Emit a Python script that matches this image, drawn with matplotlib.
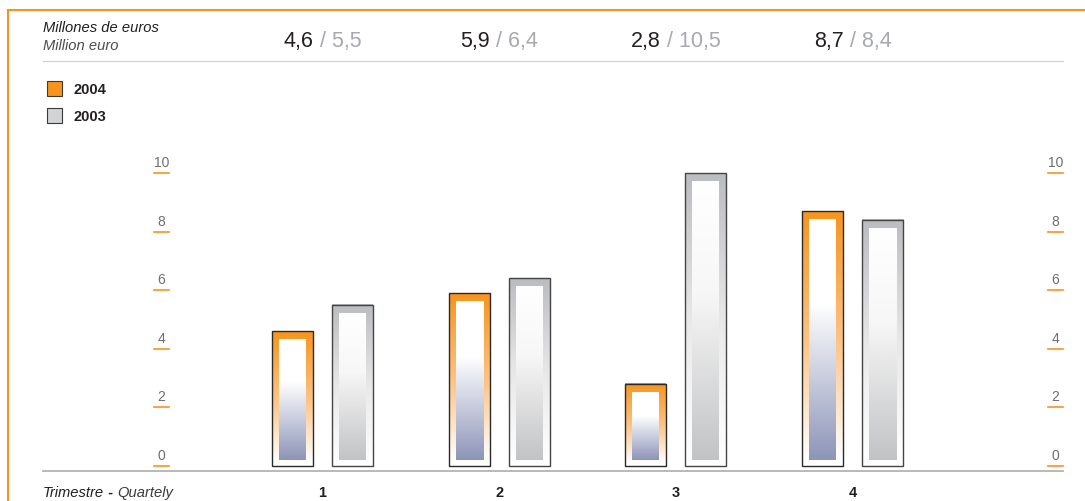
import numpy as np
import matplotlib
matplotlib.use("Agg")
import matplotlib.pyplot as plt
from matplotlib.colors import LinearSegmentedColormap
from matplotlib.patches import Rectangle
from matplotlib.lines import Line2D
import matplotlib.transforms as mtransforms

# ---- data -------------------------------------------------------------
quarters = ["1", "2", "3", "4"]
series_names = ["2004", "2003"]
sales_2004 = [4.6, 5.9, 2.8, 8.7]
sales_2003 = [5.5, 6.4, 10.5, 8.4]
y_ticks = [0, 2, 4, 6, 8, 10]

# ---- style --------------------------------------------------------------
plt.rcParams["font.family"] = ["Liberation Sans", "DejaVu Sans"]
ORANGE = "#f7941d"
DARK = "#231f20"
LIGHT_TXT = "#a7a9ac"
TICK_TXT = "#6d6e71"

W, H = 1085, 502
fig = plt.figure(figsize=(W / 100, H / 100), dpi=100)
fig.patch.set_facecolor("white")


def fx(px):
    return px / W


def fy(py):
    return 1 - py / H


# ---- plotting area ------------------------------------------------------
px_per_unit = (467 - 174) / 10.0
group_px = 176.7
y_lo = -(472 - 467) / px_per_unit
y_hi = 10.0
x_lo = 1 - (322.5 - 43) / group_px
x_hi = 1 + (1063 - 322.5) / group_px

ax = fig.add_axes([fx(43), fy(472), fx(1063) - fx(43), fy(174) - fy(472)])
ax.set_axis_off()

bar_w = 41 / group_px
offset = 30 / group_px
inset_x = 7 / group_px
inset_top = 8 / px_per_unit
inset_bot = 6.5 / px_per_unit

frame_cmaps = {
    "2004": LinearSegmentedColormap.from_list(
        "f04", [(0, ORANGE), (0.5, "#fdc282"), (0.97, "#ffffff"), (1, "#ffffff")]),
    "2003": LinearSegmentedColormap.from_list(
        "f03", [(0, "#bbbcbf"), (0.5, "#e8e8e9"), (0.97, "#ffffff"), (1, "#ffffff")]),
}
inner_cmaps = {
    "2004": LinearSegmentedColormap.from_list(
        "i04", [(0, "#ffffff"), (0.35, "#ffffff"), (1, "#8d95b8")]),
    "2003": LinearSegmentedColormap.from_list(
        "i03", [(0, "#ffffff"), (0.4, "#f7f7f7"), (1, "#c2c3c5")]),
}
outline = {"2004": "#2a2a2a", "2003": "#444444"}

grad = np.linspace(0, 1, 256).reshape(-1, 1)
x_pos = np.arange(1, len(quarters) + 1)

for name, vals, sign in [("2004", sales_2004, -1), ("2003", sales_2003, 1)]:
    heights = np.minimum(np.asarray(vals), y_hi)
    for xc, h in zip(x_pos + sign * offset, heights):
        x0, x1 = xc - bar_w / 2, xc + bar_w / 2
        ax.imshow(grad, cmap=frame_cmaps[name], aspect="auto", origin="upper",
                  extent=[x0, x1, 0, h], interpolation="bilinear", zorder=2)
        ax.imshow(grad, cmap=inner_cmaps[name], aspect="auto", origin="upper",
                  extent=[x0 + inset_x, x1 - inset_x, inset_bot, h - inset_top],
                  interpolation="bilinear", zorder=3)
    ax.bar(x_pos + sign * offset, heights, width=bar_w, bottom=0,
           facecolor="none", edgecolor=outline[name], linewidth=1.0,
           zorder=4, clip_on=False)

ax.set_xlim(x_lo, x_hi)
ax.set_ylim(y_lo, y_hi)

# ---- y tick labels with orange underlines, both sides ---------------------
bt = mtransforms.blended_transform_factory(fig.transFigure, ax.transData)
for side_l, side_r, cx in [(154, 169, 161.5), (1048, 1063, 1055.5)]:
    for t in y_ticks:
        ax.add_line(Line2D([fx(side_l), fx(side_r)], [t, t], transform=bt,
                           color=ORANGE, lw=1.2, clip_on=False, zorder=5))
        ax.text(fx(cx), t + 4 / px_per_unit, str(t), transform=bt,
                ha="center", va="bottom", fontsize=10, color=TICK_TXT,
                clip_on=False)

# ---- rules and frame ----------------------------------------------------
fig.add_artist(Line2D([fx(43), fx(1063)], [fy(472), fy(472)], color="#b2b3b5", lw=1.3))
fig.add_artist(Line2D([fx(43), fx(1063)], [fy(62), fy(62)], color="#cfd0d2", lw=0.9))
fig.add_artist(Line2D([fx(8), fx(8), fx(1085)], [0, fy(11), fy(11)],
                      color=ORANGE, lw=1.5, solid_joinstyle="miter"))

# ---- header -------------------------------------------------------------
fig.text(fx(43), fy(28), "Millones de euros", style="italic", fontsize=10.6,
         color=DARK, va="center")
fig.text(fx(43), fy(46), "Million euro", style="italic", fontsize=10.6,
         color="#4d4d4f", va="center")

renderer = fig.canvas.get_renderer()


def two_part(xc_px, y_px, a, b, kw_a, kw_b):
    probe = fig.text(0, 0, a + b, **kw_a)
    w_all = probe.get_window_extent(renderer).width
    probe.remove()
    left = xc_px - w_all / 2
    ta = fig.text(fx(left), fy(y_px), a, ha="left", va="center", **kw_a)
    wa = ta.get_window_extent(renderer).width
    fig.text(fx(left + wa), fy(y_px), b, ha="left", va="center", **kw_b)


def fmt(v):
    return f"{v:.1f}".replace(".", ",")


group_centers_px = [322.5 + group_px * i for i in range(len(quarters))]
for xc, a, b in zip(group_centers_px, sales_2004, sales_2003):
    two_part(xc, 42, fmt(a), " / " + fmt(b),
             dict(fontsize=15.5, color=DARK), dict(fontsize=15.5, color=LIGHT_TXT))

# ---- legend -------------------------------------------------------------
for (name, face), y_px in zip([("2004", ORANGE), ("2003", "#d1d3d4")], [82, 109]):
    fig.add_artist(Rectangle((fx(47), fy(y_px + 15)), fx(15), 15 / H,
                             transform=fig.transFigure, facecolor=face,
                             edgecolor="#3a3a3a", lw=0.8))
    fig.text(fx(73), fy(y_px + 8), name, fontsize=10.5, fontweight="bold",
             color=DARK, va="center")

# ---- x axis labels --------------------------------------------------------
t1 = fig.text(fx(43), fy(493), "Trimestre", style="italic", fontsize=10.6,
              color=DARK, va="center")
x_cur = 43 + t1.get_window_extent(renderer).width
t2 = fig.text(fx(x_cur), fy(493), " - ", fontweight="bold", fontsize=10.6,
              color=DARK, va="center")
x_cur += t2.get_window_extent(renderer).width
fig.text(fx(x_cur), fy(493), "Quartely", style="italic", fontsize=10.6,
         color="#3a3a3c", va="center")
for xc, q in zip(group_centers_px, quarters):
    fig.text(fx(xc), fy(493), q, ha="center", va="center", fontsize=10.5,
             fontweight="bold", color=DARK)

fig.savefig("out.png", dpi=100, facecolor="white")
